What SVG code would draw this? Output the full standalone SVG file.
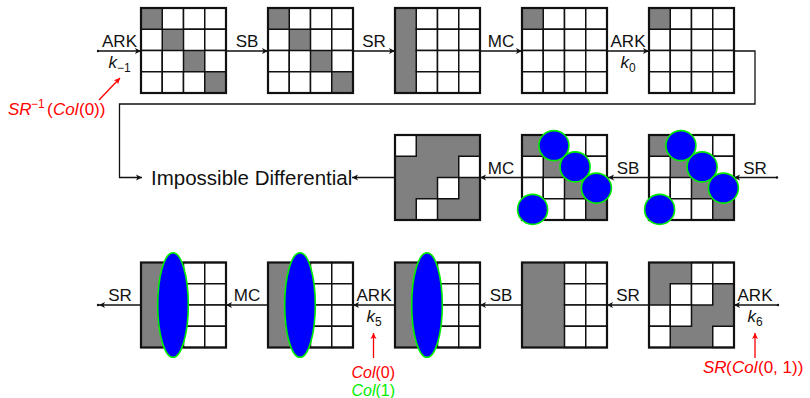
<svg xmlns="http://www.w3.org/2000/svg" xmlns:xlink="http://www.w3.org/1999/xlink" width="810" height="398" viewBox="0 0 810 398">
  <style>
    .w { fill: #fff; stroke: #111; stroke-width: 1.5; }
    .g { fill: #808080; }
    .b { fill: none; stroke: #111; stroke-width: 2.2; }
    .dot { fill: #0000ff; stroke: #00ee00; stroke-width: 1.6; }
    .ln { fill: none; stroke: #111; stroke-width: 1.3; }
    .rl { fill: none; stroke: #ff0000; stroke-width: 1.3; }
    .end { fill: #111; }
    text { font-family: "Liberation Sans", Arial, sans-serif; }
    .lbl { font-size: 17px; fill: #111; text-anchor: middle; }
    .it { font-style: italic; }
    .sub { font-size: 12px; }
    .red { fill: #ff0000; font-size: 17px; }
    .grn { fill: #00ee00; font-size: 16px; }
    .red2 { fill: #ff0000; font-size: 16px; }
  </style>
  <defs>
    <rect id="wc" class="w" width="21.25" height="21.25"/>
    <rect id="gc" class="g" width="21.25" height="21.25"/>
    <marker id="ah" viewBox="-7 -4 8 8" refX="0" refY="0" markerWidth="8" markerHeight="8" markerUnits="userSpaceOnUse" orient="auto">
      <path d="M0,0 L-6,-3 L-4.5,0 L-6,3 Z" fill="#111"/>
    </marker>
    <marker id="ahr" viewBox="-7 -4 8 8" refX="0" refY="0" markerWidth="8" markerHeight="8" markerUnits="userSpaceOnUse" orient="auto">
      <path d="M0,0 L-6,-3 L-4.5,0 L-6,3 Z" fill="#ff0000"/>
    </marker>
  </defs>

  <!-- connectors -->
  <g id="connectors">
    <!-- top row, left to right -->
    <line class="ln" x1="98" y1="51" x2="141" y2="51" marker-end="url(#ah)"/>
    <circle class="end" cx="98" cy="51" r="1.2"/>
    <line class="ln" x1="226" y1="51" x2="268" y2="51" marker-end="url(#ah)"/>
    <line class="ln" x1="353" y1="51" x2="395" y2="51" marker-end="url(#ah)"/>
    <line class="ln" x1="480" y1="51" x2="522" y2="51" marker-end="url(#ah)"/>
    <line class="ln" x1="607" y1="51" x2="649" y2="51" marker-end="url(#ah)"/>
    <polyline class="ln" points="734,51 755,51 755,104 119.5,104 119.5,177.5 142,177.5" marker-end="url(#ah)"/>
    <!-- middle row, right to left -->
    <line class="ln" x1="777" y1="177.5" x2="734" y2="177.5" marker-end="url(#ah)"/>
    <circle class="end" cx="777" cy="177.5" r="1.2"/>
    <line class="ln" x1="649" y1="177.5" x2="608" y2="177.5" marker-end="url(#ah)"/>
    <line class="ln" x1="522" y1="177.5" x2="480" y2="177.5" marker-end="url(#ah)"/>
    <line class="ln" x1="395" y1="177.5" x2="352" y2="177.5" marker-end="url(#ah)"/>
    <!-- bottom row, right to left -->
    <line class="ln" x1="778" y1="305" x2="734" y2="305" marker-end="url(#ah)"/>
    <circle class="end" cx="778" cy="305" r="1.2"/>
    <line class="ln" x1="649" y1="305" x2="607" y2="305" marker-end="url(#ah)"/>
    <line class="ln" x1="522" y1="305" x2="480" y2="305" marker-end="url(#ah)"/>
    <line class="ln" x1="395" y1="305" x2="353" y2="305" marker-end="url(#ah)"/>
    <line class="ln" x1="268" y1="305" x2="226" y2="305" marker-end="url(#ah)"/>
    <line class="ln" x1="141" y1="305" x2="99" y2="305" marker-end="url(#ah)"/>
    <circle class="end" cx="98" cy="305" r="1.2"/>
    <!-- key annotations -->
    <line class="rl" x1="99" y1="100" x2="120" y2="78" marker-end="url(#ahr)"/>
    <line class="rl" x1="373.5" y1="358" x2="373.5" y2="333" marker-end="url(#ahr)"/>
    <line class="rl" x1="755" y1="358" x2="755" y2="333" marker-end="url(#ahr)"/>
  </g>

  <!-- top row states -->
  <g id="t1" transform="translate(141,8)">
    <use href="#gc" x="0" y="0"/><use href="#gc" x="21.25" y="21.25"/><use href="#gc" x="42.5" y="42.5"/><use href="#gc" x="63.75" y="63.75"/>
    <use href="#wc" x="21.25" y="0"/><use href="#wc" x="42.5" y="0"/><use href="#wc" x="63.75" y="0"/>
    <use href="#wc" x="0" y="21.25"/><use href="#wc" x="42.5" y="21.25"/><use href="#wc" x="63.75" y="21.25"/>
    <use href="#wc" x="0" y="42.5"/><use href="#wc" x="21.25" y="42.5"/><use href="#wc" x="63.75" y="42.5"/>
    <use href="#wc" x="0" y="63.75"/><use href="#wc" x="21.25" y="63.75"/><use href="#wc" x="42.5" y="63.75"/>
    <rect class="b" width="85" height="85"/>
  </g>
  <g id="t2" transform="translate(268,8)">
    <use href="#gc" x="0" y="0"/><use href="#gc" x="21.25" y="21.25"/><use href="#gc" x="42.5" y="42.5"/><use href="#gc" x="63.75" y="63.75"/>
    <use href="#wc" x="21.25" y="0"/><use href="#wc" x="42.5" y="0"/><use href="#wc" x="63.75" y="0"/>
    <use href="#wc" x="0" y="21.25"/><use href="#wc" x="42.5" y="21.25"/><use href="#wc" x="63.75" y="21.25"/>
    <use href="#wc" x="0" y="42.5"/><use href="#wc" x="21.25" y="42.5"/><use href="#wc" x="63.75" y="42.5"/>
    <use href="#wc" x="0" y="63.75"/><use href="#wc" x="21.25" y="63.75"/><use href="#wc" x="42.5" y="63.75"/>
    <rect class="b" width="85" height="85"/>
  </g>
  <g id="t3" transform="translate(395,8)">
    <rect class="g" width="21.25" height="85"/>
    <use href="#wc" x="21.25" y="0"/><use href="#wc" x="42.5" y="0"/><use href="#wc" x="63.75" y="0"/>
    <use href="#wc" x="21.25" y="21.25"/><use href="#wc" x="42.5" y="21.25"/><use href="#wc" x="63.75" y="21.25"/>
    <use href="#wc" x="21.25" y="42.5"/><use href="#wc" x="42.5" y="42.5"/><use href="#wc" x="63.75" y="42.5"/>
    <use href="#wc" x="21.25" y="63.75"/><use href="#wc" x="42.5" y="63.75"/><use href="#wc" x="63.75" y="63.75"/>
    <rect class="b" width="85" height="85"/>
  </g>
  <g id="t4" transform="translate(522,8)">
    <use href="#gc" x="0" y="0"/>
    <use href="#wc" x="21.25" y="0"/><use href="#wc" x="42.5" y="0"/><use href="#wc" x="63.75" y="0"/>
    <use href="#wc" x="0" y="21.25"/><use href="#wc" x="21.25" y="21.25"/><use href="#wc" x="42.5" y="21.25"/><use href="#wc" x="63.75" y="21.25"/>
    <use href="#wc" x="0" y="42.5"/><use href="#wc" x="21.25" y="42.5"/><use href="#wc" x="42.5" y="42.5"/><use href="#wc" x="63.75" y="42.5"/>
    <use href="#wc" x="0" y="63.75"/><use href="#wc" x="21.25" y="63.75"/><use href="#wc" x="42.5" y="63.75"/><use href="#wc" x="63.75" y="63.75"/>
    <rect class="b" width="85" height="85"/>
  </g>
  <g id="t5" transform="translate(649,8)">
    <use href="#gc" x="0" y="0"/>
    <use href="#wc" x="21.25" y="0"/><use href="#wc" x="42.5" y="0"/><use href="#wc" x="63.75" y="0"/>
    <use href="#wc" x="0" y="21.25"/><use href="#wc" x="21.25" y="21.25"/><use href="#wc" x="42.5" y="21.25"/><use href="#wc" x="63.75" y="21.25"/>
    <use href="#wc" x="0" y="42.5"/><use href="#wc" x="21.25" y="42.5"/><use href="#wc" x="42.5" y="42.5"/><use href="#wc" x="63.75" y="42.5"/>
    <use href="#wc" x="0" y="63.75"/><use href="#wc" x="21.25" y="63.75"/><use href="#wc" x="42.5" y="63.75"/><use href="#wc" x="63.75" y="63.75"/>
    <rect class="b" width="85" height="85"/>
  </g>

  <!-- middle row states -->
  <g id="m1" transform="translate(395,135)">
    <rect class="g" width="85" height="85"/>
    <use href="#wc" x="0" y="0"/><use href="#wc" x="63.75" y="21.25"/><use href="#wc" x="42.5" y="42.5"/><use href="#wc" x="21.25" y="63.75"/>
    <rect class="b" width="85" height="85"/>
  </g>
  <g id="m2" transform="translate(522,135)">
    <use href="#gc" x="0" y="0"/><use href="#gc" x="21.25" y="21.25"/><use href="#gc" x="42.5" y="42.5"/><use href="#gc" x="63.75" y="63.75"/>
    <use href="#wc" x="21.25" y="0"/><use href="#wc" x="42.5" y="0"/><use href="#wc" x="63.75" y="0"/>
    <use href="#wc" x="0" y="21.25"/><use href="#wc" x="42.5" y="21.25"/><use href="#wc" x="63.75" y="21.25"/>
    <use href="#wc" x="0" y="42.5"/><use href="#wc" x="21.25" y="42.5"/><use href="#wc" x="63.75" y="42.5"/>
    <use href="#wc" x="0" y="63.75"/><use href="#wc" x="21.25" y="63.75"/><use href="#wc" x="42.5" y="63.75"/>
    <rect class="b" width="85" height="85"/>
    <circle class="dot" cx="31.9" cy="10.6" r="15"/>
    <circle class="dot" cx="53.1" cy="31.9" r="15"/>
    <circle class="dot" cx="74.4" cy="53.1" r="15"/>
    <circle class="dot" cx="10.6" cy="74.4" r="15"/>
  </g>
  <g id="m3" transform="translate(649,135)">
    <use href="#gc" x="0" y="0"/><use href="#gc" x="21.25" y="21.25"/><use href="#gc" x="42.5" y="42.5"/><use href="#gc" x="63.75" y="63.75"/>
    <use href="#wc" x="21.25" y="0"/><use href="#wc" x="42.5" y="0"/><use href="#wc" x="63.75" y="0"/>
    <use href="#wc" x="0" y="21.25"/><use href="#wc" x="42.5" y="21.25"/><use href="#wc" x="63.75" y="21.25"/>
    <use href="#wc" x="0" y="42.5"/><use href="#wc" x="21.25" y="42.5"/><use href="#wc" x="63.75" y="42.5"/>
    <use href="#wc" x="0" y="63.75"/><use href="#wc" x="21.25" y="63.75"/><use href="#wc" x="42.5" y="63.75"/>
    <rect class="b" width="85" height="85"/>
    <circle class="dot" cx="31.9" cy="10.6" r="15"/>
    <circle class="dot" cx="53.1" cy="31.9" r="15"/>
    <circle class="dot" cx="74.4" cy="53.1" r="15"/>
    <circle class="dot" cx="10.6" cy="74.4" r="15"/>
  </g>
  <g id="impossible">
    <text x="151" y="185" font-size="20.5" fill="#111">Impossible Differential</text>
  </g>

  <!-- bottom row states -->
  <g id="b1" transform="translate(141,262.5)">
    <rect class="g" width="42.5" height="85"/>
    <use href="#wc" x="42.5" y="0"/><use href="#wc" x="63.75" y="0"/>
    <use href="#wc" x="42.5" y="21.25"/><use href="#wc" x="63.75" y="21.25"/>
    <use href="#wc" x="42.5" y="42.5"/><use href="#wc" x="63.75" y="42.5"/>
    <use href="#wc" x="42.5" y="63.75"/><use href="#wc" x="63.75" y="63.75"/>
    <rect class="b" width="85" height="85"/>
    <ellipse class="dot" cx="32" cy="42.5" rx="15.3" ry="52.3"/>
  </g>
  <g id="b2" transform="translate(268,262.5)">
    <rect class="g" width="42.5" height="85"/>
    <use href="#wc" x="42.5" y="0"/><use href="#wc" x="63.75" y="0"/>
    <use href="#wc" x="42.5" y="21.25"/><use href="#wc" x="63.75" y="21.25"/>
    <use href="#wc" x="42.5" y="42.5"/><use href="#wc" x="63.75" y="42.5"/>
    <use href="#wc" x="42.5" y="63.75"/><use href="#wc" x="63.75" y="63.75"/>
    <rect class="b" width="85" height="85"/>
    <ellipse class="dot" cx="32" cy="42.5" rx="15.3" ry="52.3"/>
  </g>
  <g id="b3" transform="translate(395,262.5)">
    <rect class="g" width="42.5" height="85"/>
    <use href="#wc" x="42.5" y="0"/><use href="#wc" x="63.75" y="0"/>
    <use href="#wc" x="42.5" y="21.25"/><use href="#wc" x="63.75" y="21.25"/>
    <use href="#wc" x="42.5" y="42.5"/><use href="#wc" x="63.75" y="42.5"/>
    <use href="#wc" x="42.5" y="63.75"/><use href="#wc" x="63.75" y="63.75"/>
    <rect class="b" width="85" height="85"/>
    <ellipse class="dot" cx="32" cy="42.5" rx="15.3" ry="52.3"/>
  </g>
  <g id="b4" transform="translate(522,262.5)">
    <rect class="g" width="42.5" height="85"/>
    <use href="#wc" x="42.5" y="0"/><use href="#wc" x="63.75" y="0"/>
    <use href="#wc" x="42.5" y="21.25"/><use href="#wc" x="63.75" y="21.25"/>
    <use href="#wc" x="42.5" y="42.5"/><use href="#wc" x="63.75" y="42.5"/>
    <use href="#wc" x="42.5" y="63.75"/><use href="#wc" x="63.75" y="63.75"/>
    <rect class="b" width="85" height="85"/>
  </g>
  <g id="b5" transform="translate(649,262.5)">
    <rect class="g" width="85" height="85"/>
    <use href="#wc" x="42.5" y="0"/><use href="#wc" x="63.75" y="0"/>
    <use href="#wc" x="21.25" y="21.25"/><use href="#wc" x="42.5" y="21.25"/>
    <use href="#wc" x="0" y="42.5"/><use href="#wc" x="21.25" y="42.5"/>
    <use href="#wc" x="0" y="63.75"/><use href="#wc" x="63.75" y="63.75"/>
    <rect class="b" width="85" height="85"/>
  </g>

  <!-- operation labels -->
  <g id="labels">
    <text class="lbl" x="119.5" y="47">ARK</text>
    <text class="lbl" x="119.5" y="68"><tspan class="it">k</tspan><tspan class="sub" dy="4">−1</tspan></text>
    <text class="lbl" x="247" y="47">SB</text>
    <text class="lbl" x="374" y="47">SR</text>
    <text class="lbl" x="501" y="47">MC</text>
    <text class="lbl" x="628" y="47">ARK</text>
    <text class="lbl" x="628" y="68"><tspan class="it">k</tspan><tspan class="sub" dy="4">0</tspan></text>

    <text class="lbl" x="755" y="173.5">SR</text>
    <text class="lbl" x="628" y="173.5">SB</text>
    <text class="lbl" x="501" y="173.5">MC</text>

    <text class="lbl" x="755" y="301">ARK</text>
    <text class="lbl" x="755" y="322"><tspan class="it">k</tspan><tspan class="sub" dy="4">6</tspan></text>
    <text class="lbl" x="628" y="301">SR</text>
    <text class="lbl" x="501" y="301">SB</text>
    <text class="lbl" x="374" y="301">ARK</text>
    <text class="lbl" x="374" y="322"><tspan class="it">k</tspan><tspan class="sub" dy="4">5</tspan></text>
    <text class="lbl" x="247" y="301">MC</text>
    <text class="lbl" x="120" y="301">SR</text>
  </g>

  <!-- key annotations -->
  <g id="notes">
    <text class="red" y="115"><tspan class="it" x="8">SR</tspan><tspan class="sub" x="31" dy="-7">−1</tspan><tspan x="47" dy="7">(</tspan><tspan class="it" x="53">Col</tspan><tspan x="79">(0))</tspan></text>
    <text class="red" y="373"><tspan class="it" x="703">SR</tspan><tspan x="726">(</tspan><tspan class="it" x="732">Col</tspan><tspan x="758">(0, 1))</tspan></text>
    <text class="red2" y="377.5"><tspan class="it" x="351.5">Col</tspan><tspan x="375.5">(0)</tspan></text>
    <text class="grn" y="395.5"><tspan class="it" x="351.5">Col</tspan><tspan x="375.5">(1)</tspan></text>
  </g>
</svg>
